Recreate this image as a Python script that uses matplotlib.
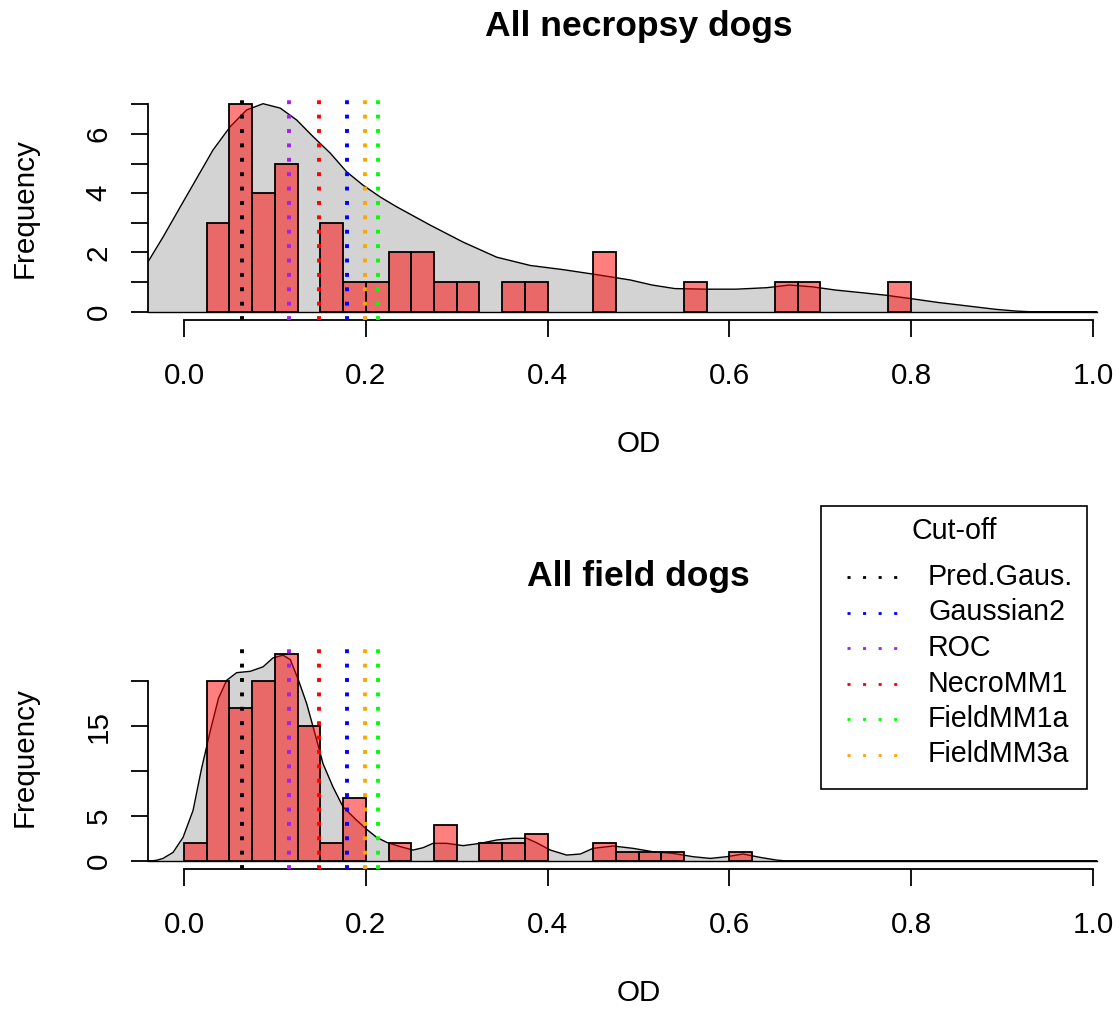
import numpy as np
import matplotlib
matplotlib.use("Agg")
import matplotlib.pyplot as plt
from matplotlib.lines import Line2D
from matplotlib.patches import Rectangle

plt.rcParams['font.family'] = ['Liberation Sans', 'DejaVu Sans']

# ---------------- data ----------------
bin_width = 0.025

top_bin_left = [0.025, 0.05, 0.075, 0.1, 0.125, 0.15, 0.175, 0.2, 0.225, 0.25, 0.275, 0.3,
                0.325, 0.35, 0.375, 0.4, 0.425, 0.45, 0.475, 0.5, 0.525, 0.55, 0.575, 0.6,
                0.625, 0.65, 0.675, 0.7, 0.725, 0.75, 0.775]
top_counts = [3, 7, 4, 5, 0, 3, 1, 1, 2, 2, 1, 1,
              0, 1, 1, 0, 0, 2, 0, 0, 0, 1, 0, 0,
              0, 1, 1, 0, 0, 0, 1]

bot_bin_left = [0.0, 0.025, 0.05, 0.075, 0.1, 0.125, 0.15, 0.175, 0.2, 0.225, 0.25, 0.275,
                0.3, 0.325, 0.35, 0.375, 0.4, 0.425, 0.45, 0.475, 0.5, 0.525, 0.55, 0.575, 0.6]
bot_counts = [2, 20, 17, 20, 23, 15, 2, 7, 0, 2, 0, 4,
              0, 2, 2, 3, 0, 0, 2, 1, 1, 1, 0, 0, 1]

# density curves scaled to frequency
top_dens_x = [-0.045, -0.042, -0.023, -0.004, 0.014, 0.032, 0.051, 0.069, 0.087, 0.106, 0.124,
              0.142, 0.161, 0.179, 0.197, 0.216, 0.234, 0.271, 0.307, 0.344, 0.381, 0.417,
              0.454, 0.491, 0.515, 0.540, 0.574, 0.607, 0.641, 0.666, 0.691, 0.717, 0.746,
              0.771, 0.800, 0.830, 0.863, 0.893, 0.916, 0.930, 1.004]
top_dens_y = [1.40, 1.56, 2.52, 3.54, 4.50, 5.46, 6.25, 6.81, 7.02, 6.87, 6.47,
              5.91, 5.35, 4.72, 4.27, 3.87, 3.54, 2.92, 2.35, 1.84, 1.56, 1.42,
              1.25, 1.07, 0.90, 0.78, 0.76, 0.76, 0.81, 0.90, 0.84, 0.73, 0.64,
              0.56, 0.44, 0.31, 0.19, 0.08, 0.02, 0.0, 0.0]

bot_dens_x = [-0.045, -0.035, -0.030, -0.023, -0.012, -0.001, 0.010, 0.019, 0.029, 0.038,
              0.047, 0.058, 0.073, 0.087, 0.098, 0.109, 0.117, 0.126, 0.135, 0.144, 0.153,
              0.164, 0.175, 0.190, 0.201, 0.212, 0.223, 0.238, 0.252, 0.263, 0.274, 0.289,
              0.307, 0.326, 0.344, 0.362, 0.377, 0.388, 0.403, 0.421, 0.436, 0.450, 0.472,
              0.494, 0.516, 0.538, 0.560, 0.579, 0.597, 0.615, 0.634, 0.652, 0.660, 1.004]
bot_dens_y = [0.0, 0.0, 0.05, 0.26, 0.93, 2.6, 5.6, 10.1, 14.5, 18.1,
              20.1, 20.95, 21.1, 21.6, 22.6, 22.9, 22.4, 20.1, 17.5, 14.2, 10.8,
              8.2, 6.0, 4.5, 3.5, 2.6, 2.05, 1.57, 1.19, 1.45, 1.94, 1.94,
              1.68, 1.94, 2.31, 2.5, 2.5, 2.0, 1.19, 0.63, 0.75, 1.38, 1.64,
              1.38, 1.0, 0.82, 0.45, 0.26, 0.45, 0.75, 0.37, 0.07, 0.0, 0.0]

cutoff_names = ["Pred.Gaus.", "Gaussian2", "ROC", "NecroMM1", "FieldMM1a", "FieldMM3a"]
cutoff_values = [0.0635, 0.179, 0.116, 0.1485, 0.2134, 0.1995]
cutoff_colors = ["black", "#0000FF", "#A020F0", "#FF0000", "#00FF00", "#FFA500"]

x_ticks = [0.0, 0.2, 0.4, 0.6, 0.8, 1.0]
x_tick_labels = ["0.0", "0.2", "0.4", "0.6", "0.8", "1.0"]
top_yticks = [0, 1, 2, 3, 4, 5, 6, 7]
top_ylabels = ["0", "", "2", "", "4", "", "6", ""]
bot_yticks = [0, 5, 10, 15, 20]
bot_ylabels = ["0", "5", "", "15", ""]

# ---------------- layout ----------------
W, H = 1120, 1009
fig = plt.figure(figsize=(W / 100, H / 100), dpi=100)

def rect(l, t, r, b):
    return [l / W, 1 - b / H, (r - l) / W, (b - t) / H]

BASE = 21.3
LW_AX = 1.3
dot_lw = 2.8

def panel(ax, bin_left, counts, dx, dy, yticks, ylabels, ylim, title):
    ax.set_xlim(-0.04, 1.04)
    ax.set_ylim(*ylim)
    ax.fill_between(dx, dy, 0, color="#D3D3D3", lw=0, zorder=1)
    ax.plot(dx, dy, color="black", lw=1.0, zorder=2)
    ax.plot([dx[0], dx[-1]], [0, 0], color="black", lw=1.0, zorder=2)
    bl = np.array(bin_left)
    c = np.array(counts)
    m = c > 0
    ax.bar(bl[m], c[m], width=bin_width, align="edge", color=(1, 0, 0, 0.5),
           edgecolor="black", linewidth=1.3, zorder=3)
    for v, col in zip(cutoff_values, cutoff_colors):
        ax.axvline(v, color=col, lw=dot_lw, linestyle=(0, (1.0, 2.7)), zorder=4)
    for s in ("top", "right"):
        ax.spines[s].set_visible(False)
    ax.spines["left"].set_bounds(yticks[0], yticks[-1])
    ax.spines["bottom"].set_bounds(0, 1)
    for s in ("left", "bottom"):
        ax.spines[s].set_linewidth(LW_AX)
    ax.set_xticks(x_ticks)
    ax.set_xticklabels(x_tick_labels)
    ax.set_yticks(yticks)
    ax.set_yticklabels(ylabels, rotation=90, va="center")
    ax.tick_params(axis="both", length=12.2, width=LW_AX, labelsize=BASE)
    ax.tick_params(axis="x", pad=18)
    ax.tick_params(axis="y", pad=13)
    ax.set_title(title, fontsize=BASE * 1.2, fontweight="bold", pad=43)
    ax.set_xlabel("OD", fontsize=BASE, va="center")
    ax.set_ylabel("Frequency", fontsize=BASE, va="center")
    hpx = ax.get_position().height * H
    wpx = ax.get_position().width * W
    ax.xaxis.set_label_coords(0.5, -124 / hpx)
    ax.yaxis.set_label_coords(-123 / wpx, 0.5)
    ax.patch.set_alpha(0)

ax1 = fig.add_axes(rect(147.6, 96, 1129.4, 320))
panel(ax1, top_bin_left, top_counts, top_dens_x, top_dens_y,
      top_yticks, top_ylabels, (-0.28, 7.28), "All necropsy dogs")

ax2 = fig.add_axes(rect(147.6, 646, 1129.4, 869))
panel(ax2, bot_bin_left, bot_counts, bot_dens_x, bot_dens_y,
      bot_yticks, bot_ylabels, (-0.92, 23.92), "All field dogs")

# ---------------- legend ----------------
def fx(x):
    return x / W

def fy(y):
    return 1 - y / H

fig.patches.append(Rectangle((fx(821), fy(789)), fx(1087) - fx(821), fy(506) - fy(789),
                             transform=fig.transFigure, facecolor="white",
                             edgecolor="black", linewidth=1.2, zorder=10))
fig.text(fx(954), fy(531), "Cut-off", fontsize=20.6, ha="center", va="center", zorder=11)
legend_order = [0, 1, 2, 3, 4, 5]
for i, k in enumerate(legend_order):
    yy = 577 + i * 35.5
    fig.lines.append(Line2D([fx(847), fx(897)], [fy(yy), fy(yy)], transform=fig.transFigure,
                            color=cutoff_colors[k], lw=2.0, linestyle=(0, (1.1, 4.5)), zorder=11))
    fig.text(fx(928), fy(yy), cutoff_names[k], fontsize=20.6, ha="left", va="center", zorder=11)

fig.savefig("out.png", dpi=100)
